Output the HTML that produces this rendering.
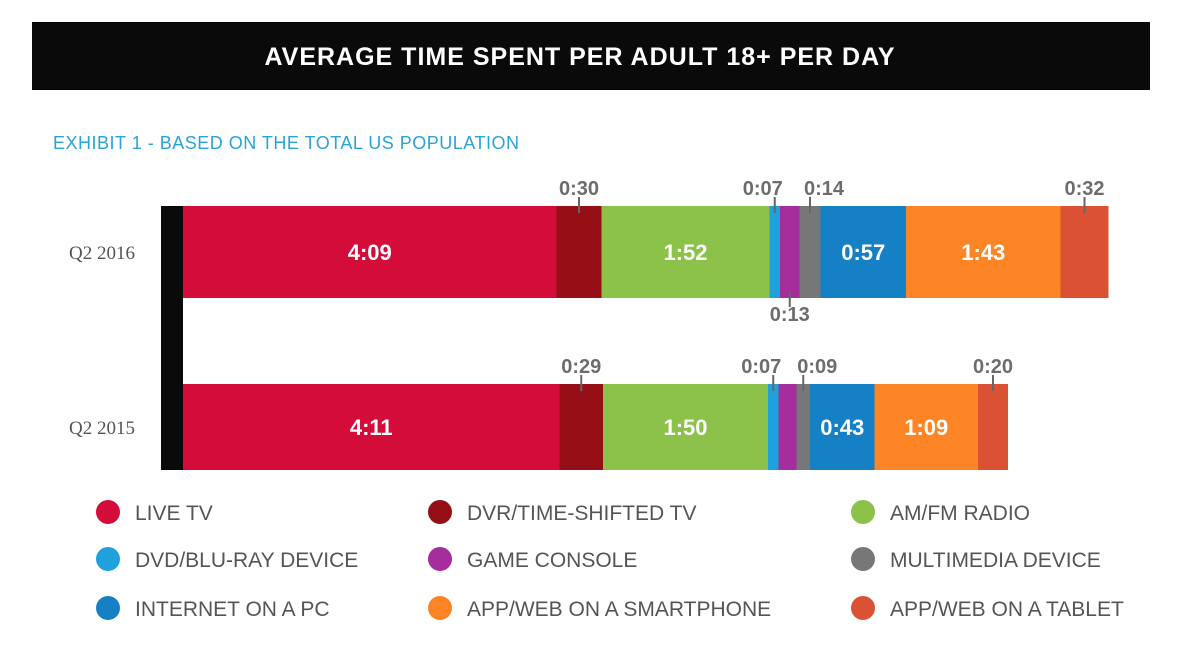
<!DOCTYPE html>
<html><head><meta charset="utf-8"><style>
body{margin:0;background:#fff;width:1182px;height:644px;overflow:hidden;font-family:"Liberation Sans",sans-serif}
</style></head><body>
<svg id="c" width="1182" height="644">
<rect x="32" y="22" width="1118" height="68" fill="#0a0a0a"/>
<text x="580" y="65" text-anchor="middle" fill="#fff" font-size="25" font-weight="bold" letter-spacing="1">AVERAGE TIME SPENT PER ADULT 18+ PER DAY</text>
<text x="53" y="149" fill="#2aa3d8" font-size="18" letter-spacing="0.5">EXHIBIT 1 - BASED ON THE TOTAL US POPULATION</text>
<rect x="161" y="206" width="22" height="264" fill="#0a0a0a"/>
<g id="bars"></g><g id="legend"></g>
</svg>
<script>
const categories=["LIVE TV","DVR/TIME-SHIFTED TV","AM/FM RADIO","DVD/BLU-RAY DEVICE","GAME CONSOLE","MULTIMEDIA DEVICE","INTERNET ON A PC","APP/WEB ON A SMARTPHONE","APP/WEB ON A TABLET"];
const colors=["#d40c3a","#960f17","#8cc24a","#1fa2dc","#a52d9c","#777777","#1580c3","#fd8525","#db5134"];
const periods=["Q2 2016","Q2 2015"];
const values2016=[249,30,112,7,13,14,57,103,32];
const values2015=[251,29,110,7,12,9,43,69,20];
const series=[values2016,values2015];
const labelMode2016=["in","up","in","up","down","up","in","in","up"];
const labelMode2015=["in","up","in","up","","up","in","in","up"];
const modes=[labelMode2016,labelMode2015];
const x0=183,k=1.5;
const xs=v=>x0+v*k;
const bandY=[206,384],bandH=[92,86];
const fmt=m=>Math.floor(m/60)+":"+String(m%60).padStart(2,"0");
const NS="http://www.w3.org/2000/svg";
function mk(t,a,p){const e=document.createElementNS(NS,t);for(const q in a)e.setAttribute(q,a[q]);p.appendChild(e);return e;}
const bars=document.getElementById("bars");
series.forEach((vals,si)=>{
  const y=bandY[si],h=bandH[si];
  const yl=mk("text",{x:135,y:y+h/2+7,"text-anchor":"end",fill:"#555","font-size":19,"font-family":"Liberation Serif, serif"},bars);
  yl.textContent=periods[si];
  
  
  let cum=0;
  vals.forEach((v,i)=>{
    const a=xs(cum),b=xs(cum+v);cum+=v;
    const r=mk("rect",{x:a,y:y,width:b-a,height:h,fill:colors[i]},bars);
    
    
    const m=modes[si][i],cx=(a+b)/2;
    if(m==="in"){
      const t=mk("text",{x:cx,y:y+h/2+8,"text-anchor":"middle",fill:"#fff","font-size":22,"font-weight":"bold"},bars);
      t.textContent=fmt(v);
      
      
    } else if(m==="up"||m==="down"){
      const up=m==="up";
      const ln=mk("line",{x1:cx,x2:cx,y1:up?y-9:y+h-7,y2:up?y+7:y+h+9,stroke:"#666","stroke-width":2},bars);
      
      
      let anchor="middle",tx=cx;
      if(up&&i===3){anchor="end";tx=cx+8;}
      if(up&&i===5){anchor="start";tx=cx-6;}
      const t=mk("text",{x:tx,y:up?y-11:y+h+23,"text-anchor":anchor,fill:"#6d6d6d","font-size":20,"font-weight":"bold"},bars);
      t.textContent=fmt(v);
      
      
    }
  });
});
const lg=document.getElementById("legend");
const colX=[108,440,863],rowY=[512,559,608];
categories.forEach((c,i)=>{
  const cx=colX[i%3],cy=rowY[Math.floor(i/3)];
  const g=mk("g",{},lg);
  
  
  mk("circle",{cx:cx,cy:cy,r:12,fill:colors[i]},g);
  const t=mk("text",{x:cx+27,y:cy+8,fill:"#555","font-size":21},g);
  t.textContent=c;
});
</script>
</body></html>
